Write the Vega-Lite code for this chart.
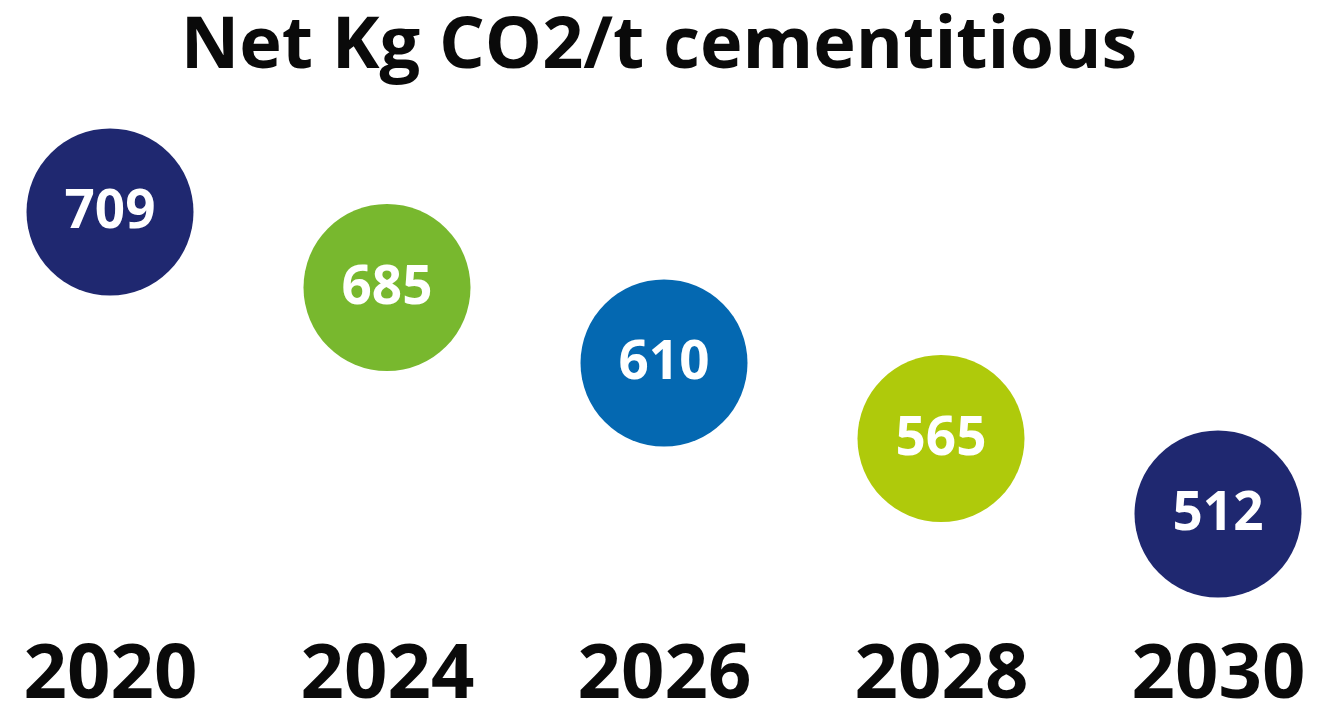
{
  "$schema": "https://vega.github.io/schema/vega-lite/v6.json",
  "width": 1318,
  "height": 508,
  "autosize": {"type": "none"},
  "padding": {"top": 100, "bottom": 100, "left": 0, "right": 0},
  "background": "white",
  "view": {"stroke": null},
  "title": {
    "text": "Net Kg CO2/t cementitious",
    "font": "Open Sans",
    "fontSize": 72,
    "fontWeight": "bold",
    "color": "#0a0a0a",
    "anchor": "middle",
    "frame": "group",
    "baseline": "alphabetic",
    "offset": -40
  },
  "data": {
    "values": [
      {"year": "2020", "value": 709},
      {"year": "2024", "value": 685},
      {"year": "2026", "value": 610},
      {"year": "2028", "value": 565},
      {"year": "2030", "value": 512}
    ]
  },
  "encoding": {
    "x": {
      "field": "year",
      "type": "ordinal",
      "scale": {"type": "point", "range": [110, 1218], "padding": 0},
      "axis": {
        "title": null,
        "domain": false,
        "ticks": false,
        "labelAngle": 0,
        "labelFont": "Open Sans",
        "labelFontSize": 76,
        "labelFontWeight": "bold",
        "labelColor": "#0a0a0a",
        "labelBaseline": "alphabetic",
        "labelPadding": 89
      }
    },
    "y": {
      "field": "value",
      "type": "ordinal",
      "sort": "descending",
      "scale": {"type": "point", "range": [112, 414], "padding": 0},
      "axis": null
    }
  },
  "layer": [
    {
      "mark": {"type": "circle", "size": 27889, "opacity": 1},
      "encoding": {
        "color": {
          "field": "year",
          "type": "nominal",
          "scale": {
            "domain": ["2020", "2024", "2026", "2028", "2030"],
            "range": ["#1f2870", "#78b82e", "#0468b1", "#afca0b", "#1f2870"]
          },
          "legend": null
        }
      }
    },
    {
      "mark": {
        "type": "text",
        "font": "Open Sans",
        "fontSize": 53,
        "fontWeight": "bold",
        "color": "white",
        "baseline": "middle",
        "align": "center"
      },
      "encoding": {
        "text": {"field": "value", "type": "quantitative"}
      }
    }
  ]
}
